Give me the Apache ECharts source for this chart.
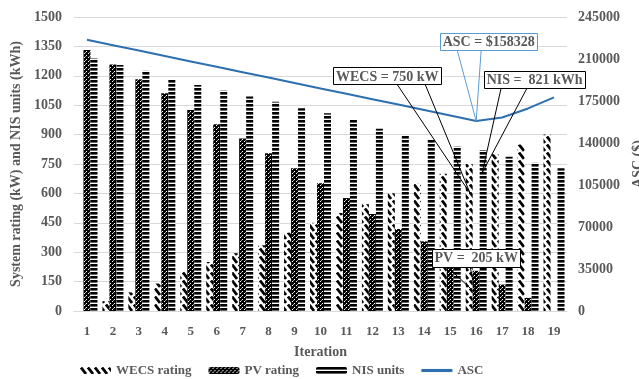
<!DOCTYPE html>
<html>
<head>
<meta charset="utf-8">
<script src="https://cdn.jsdelivr.net/npm/echarts@6/dist/echarts.min.js"></script>
<style>
  html, body { margin: 0; padding: 0; background: #ffffff; }
  #chart { width: 639px; height: 379px; }
</style>
</head>
<body>
<div id="chart"></div>
<script>
// Optimisation history: component sizes and annualised system cost per iteration
const iterations = ['1','2','3','4','5','6','7','8','9','10','11','12','13','14','15','16','17','18','19'];
const wecsRating = [0, 50, 95, 140, 200, 250, 295, 335, 400, 450, 500, 545, 600, 650, 700, 750, 800, 850, 900];
const pvRating   = [1331, 1258, 1182, 1111, 1026, 953, 880, 805, 728, 652, 576, 495, 418, 355, 280, 205, 135, 67, 0];
const nisUnits   = [1290, 1255, 1226, 1182, 1153, 1125, 1094, 1068, 1034, 1009, 975, 930, 898, 873, 839, 821, 787, 756, 728];
const ascCost    = [226000, 221500, 217000, 212500, 208000, 203500, 199000, 194500, 190000, 185500,
                    181000, 176500, 172000, 167500, 163000, 158328, 161300, 168800, 178000];

const ratingAxis = { min: 0, max: 1500, interval: 150 };
const costAxis   = { min: 0, max: 245000, interval: 35000 };

const optimumIndex = 15; // iteration 16

const SERIF = '"Liberation Serif", "Times New Roman", serif';
const GREY = '#595959';
const plain = v => String(v);

// Fill patterns for the bars
function makeTile(w, h, draw) {
  const c = document.createElement('canvas');
  c.width = w; c.height = h;
  const ctx = c.getContext('2d');
  ctx.fillStyle = '#ffffff';
  ctx.fillRect(0, 0, w, h);
  draw(ctx);
  return { image: c, repeat: 'repeat' };
}
const hatchFill = makeTile(7, 8, ctx => {
  ctx.strokeStyle = '#000';
  ctx.lineWidth = 2.8;
  ctx.beginPath();
  ctx.moveTo(1, 0.5);
  ctx.lineTo(6, 7);
  ctx.stroke();
});
const checkFill = makeTile(4, 4, ctx => {
  ctx.fillStyle = '#000';
  ctx.fillRect(0, 0, 4, 4);
  ctx.fillStyle = '#fff';
  ctx.fillRect(0, 1, 1, 1);
  ctx.fillRect(2, 3, 1, 1);
  ctx.fillRect(1, 0, 1, 0.6);
});
const stripeFill = makeTile(4, 4, ctx => {
  ctx.fillStyle = '#000';
  ctx.fillRect(0, 0, 4, 2.6);
});

const chart = echarts.init(document.getElementById('chart'), null, { renderer: 'canvas' });

const barCommon = { type: 'bar', barWidth: 7, barGap: '0%', yAxisIndex: 0, animation: false };

chart.setOption({
  animation: false,
  textStyle: { fontFamily: SERIF },
  grid: { left: 74, right: 72, top: 17, bottom: 68, outerBoundsMode: 'none', containLabel: false },
  legend: {
    left: 75, top: 359,
    itemWidth: 31, itemHeight: 7, itemGap: 17,
    textStyle: { fontFamily: SERIF, fontSize: 13, color: GREY, fontWeight: 'bold' },
    data: [
      { name: 'WECS rating' },
      { name: 'PV rating' },
      { name: 'NIS units' },
      { name: 'ASC', icon: 'path://M0,0 L10,0 L10,1 L0,1 Z' }
    ]
  },
  xAxis: {
    type: 'category',
    data: iterations,
    axisLine: { lineStyle: { color: '#d9d9d9', width: 1 } },
    axisTick: { show: false },
    axisLabel: { fontFamily: SERIF, fontSize: 13, fontWeight: 'bold', color: GREY, margin: 14 },
    name: 'Iteration',
    nameLocation: 'middle',
    nameGap: 34,
    nameTextStyle: { fontFamily: SERIF, fontSize: 14, fontWeight: 'bold', color: GREY }
  },
  yAxis: [
    {
      type: 'value',
      min: ratingAxis.min, max: ratingAxis.max, interval: ratingAxis.interval,
      axisLine: { show: false },
      axisTick: { show: false },
      splitLine: { lineStyle: { color: '#d9d9d9', width: 1 } },
      axisLabel: { fontFamily: SERIF, fontSize: 14, fontWeight: 'bold', color: GREY, margin: 12, formatter: plain },
      name: 'System rating (kW) and NIS units (kWh)',
      nameLocation: 'middle',
      nameGap: 38,
      nameTextStyle: { fontFamily: SERIF, fontSize: 14, fontWeight: 'bold', color: GREY }
    },
    {
      type: 'value',
      min: costAxis.min, max: costAxis.max, interval: costAxis.interval,
      axisLine: { show: false },
      axisTick: { show: false },
      splitLine: { show: false },
      axisLabel: { fontFamily: SERIF, fontSize: 14, fontWeight: 'bold', color: GREY, margin: 11, formatter: plain },
      name: 'ASC ($)',
      nameLocation: 'middle',
      nameGap: 60,
      nameTextStyle: { fontFamily: SERIF, fontSize: 14, fontWeight: 'bold', color: GREY }
    }
  ],
  series: [
    Object.assign({}, barCommon, { name: 'WECS rating', data: wecsRating, itemStyle: { color: hatchFill } }),
    Object.assign({}, barCommon, { name: 'PV rating', data: pvRating, itemStyle: { color: checkFill } }),
    Object.assign({}, barCommon, { name: 'NIS units', data: nisUnits, itemStyle: { color: stripeFill } }),
    {
      name: 'ASC', type: 'line', yAxisIndex: 1, data: ascCost,
      showSymbol: false, symbol: 'none', smooth: false,
      lineStyle: { color: '#2e6fb0', width: 2 },
      itemStyle: { color: '#2e6fb0' },
      z: 5
    }
  ]
});

// Callouts for the optimum design (iteration 16)
const callouts = [
  { text: 'ASC = $' + ascCost[optimumIndex], axis: 1, value: ascCost[optimumIndex], xShift: 0,
    box: [-36, -88, 97, 17], base: [-19, 5], color: '#5b9bd5' },
  { text: 'WECS = ' + wecsRating[optimumIndex] + ' kW', axis: 0, value: 600, xShift: -6,
    box: [-137, -126, 108, 17], base: [-73, -45], color: '#000000' },
  { text: 'NIS =  ' + nisUnits[optimumIndex] + ' kWh', axis: 0, value: 705, xShift: 6,
    box: [2, -102, 101, 17], base: [19, 45], color: '#000000' },
  { text: 'PV =  ' + pvRating[optimumIndex] + ' kW', axis: 0, value: 93, xShift: -1,
    box: [-43, -44, 88, 18], base: [-28, -5], color: '#000000' }
];

const graphics = [];
callouts.forEach(c => {
  const p = chart.convertToPixel({ xAxisIndex: 0, yAxisIndex: c.axis }, [iterations[optimumIndex], c.value]);
  const tx = p[0] + c.xShift, ty = p[1];
  const bx = tx + c.box[0], by = ty + c.box[1], bw = c.box[2], bh = c.box[3];
  graphics.push({
    type: 'polyline', z: 100,
    shape: { points: [[tx + c.base[0], by + bh], [tx, ty], [tx + c.base[1], by + bh]] },
    style: { stroke: c.color, lineWidth: 1, fill: null }
  });
  graphics.push({
    type: 'rect', z: 101,
    shape: { x: Math.round(bx) + 0.5, y: Math.round(by) + 0.5, width: bw, height: bh },
    style: { fill: '#ffffff', stroke: c.color, lineWidth: 1 }
  });
  graphics.push({
    type: 'text', z: 102,
    x: bx + bw / 2, y: by + bh / 2 + 1,
    style: {
      text: c.text, fill: GREY, font: 'bold 14px ' + SERIF,
      textAlign: 'center', textVerticalAlign: 'middle'
    }
  });
});
chart.setOption({ graphic: graphics });
</script>
</body>
</html>
